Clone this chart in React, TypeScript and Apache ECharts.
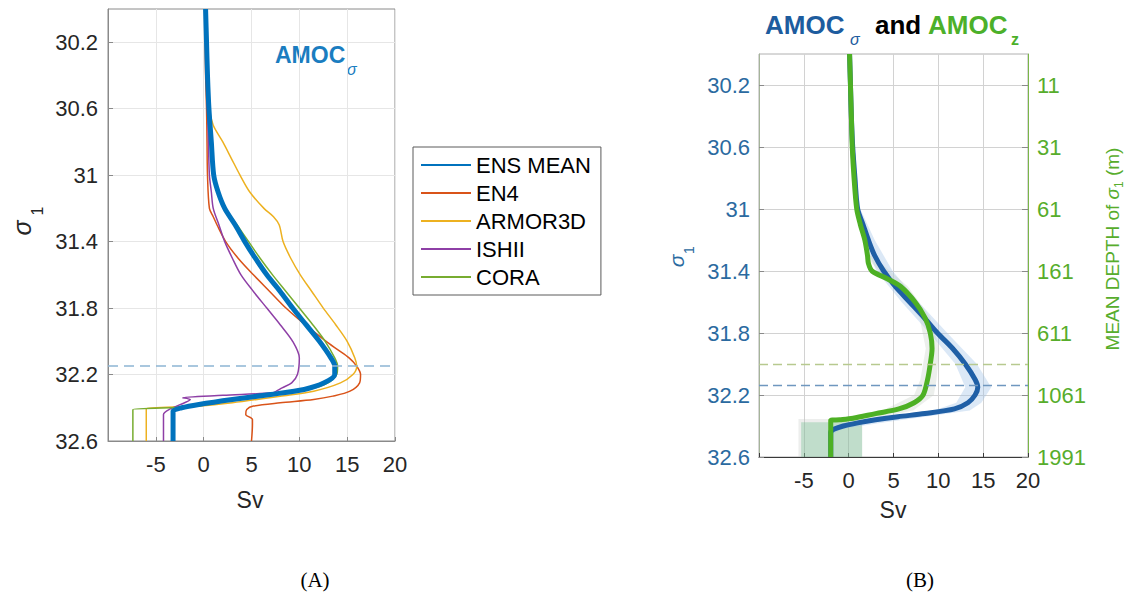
import React, { useEffect, useRef } from 'react';
import * as echarts from 'echarts';

const FONT = "'Liberation Sans', Arial, Helvetica, sans-serif";

// ---------- axes ----------
const SIGMA_TICKS = [30.2, 30.6, 31, 31.4, 31.8, 32.2, 32.6];
const DEPTH_LABELS = ['11', '31', '61', '161', '611', '1061', '1991'];

// ---------- Panel A: [sigma1, Sv] ----------
const ENS_MEAN: number[][] = [
  [30.0, 0.2], [30.2, 0.3], [30.4, 0.4], [30.6, 0.55], [30.8, 0.8], [31.0, 1.05], [31.1, 1.5],
  [31.2, 2.2], [31.3, 3.3], [31.4, 4.3], [31.5, 5.4], [31.6, 6.6], [31.7, 8.0], [31.8, 9.3],
  [31.9, 10.7], [32.0, 12.1], [32.1, 13.3], [32.15, 13.7], [32.2, 13.7], [32.25, 12.6],
  [32.29, 10.5], [32.32, 7.0], [32.35, 3.0], [32.38, -0.5], [32.4, -2.3], [32.42, -3.2],
  [32.44, -3.2], [32.6, -3.2],
];
const EN4: number[][] = [
  [30.0, 0.1], [30.2, 0.15], [30.4, 0.2], [30.6, 0.3], [30.8, 0.35], [31.0, 0.4], [31.2, 0.6],
  [31.25, 1.0], [31.3, 1.4], [31.4, 2.3], [31.5, 3.6], [31.6, 5.2], [31.7, 6.9], [31.8, 8.6],
  [31.9, 10.6], [32.0, 12.8], [32.05, 14.0], [32.1, 15.2], [32.15, 16.0], [32.2, 16.4],
  [32.25, 16.3], [32.3, 15.3], [32.33, 13.5], [32.35, 11.5], [32.37, 8.0], [32.39, 5.2],
  [32.41, 4.5], [32.44, 4.4], [32.47, 5.1], [32.5, 5.1], [32.6, 5.0],
];
const ARMOR3D: number[][] = [
  [30.0, 0.3], [30.2, 0.4], [30.4, 0.5], [30.6, 0.6], [30.7, 1.0], [30.8, 2.0], [30.9, 2.9],
  [31.0, 3.8], [31.1, 4.8], [31.2, 6.3], [31.25, 7.3], [31.3, 7.9], [31.4, 8.3], [31.5, 9.1],
  [31.6, 10.1], [31.7, 11.3], [31.8, 12.5], [31.9, 13.8], [32.0, 15.0], [32.1, 15.8],
  [32.15, 16.0], [32.2, 15.6], [32.25, 14.3], [32.3, 11.5], [32.33, 8.0], [32.37, 3.0],
  [32.39, -0.5], [32.405, -6.0], [32.42, -6.0], [32.6, -6.0],
];
const ISHII: number[][] = [
  [30.0, 0.2], [30.2, 0.25], [30.4, 0.3], [30.6, 0.4], [30.8, 0.5], [31.0, 0.6], [31.1, 0.8],
  [31.2, 1.0], [31.3, 1.6], [31.4, 2.2], [31.5, 3.0], [31.6, 3.9], [31.7, 5.2], [31.8, 6.6],
  [31.9, 8.0], [32.0, 9.3], [32.1, 10.0], [32.2, 9.8], [32.25, 9.2], [32.28, 8.2], [32.3, 7.6],
  [32.31, 7.2], [32.325, 2.0], [32.34, -2.2], [32.35, -1.4], [32.38, -2.4], [32.41, -3.6],
  [32.44, -4.2], [32.46, -4.2], [32.6, -4.2],
];
const CORA: number[][] = [
  [30.0, 0.2], [30.2, 0.3], [30.4, 0.4], [30.6, 0.6], [30.8, 0.8], [31.0, 1.0], [31.1, 1.5],
  [31.2, 2.3], [31.3, 3.5], [31.4, 4.7], [31.5, 5.9], [31.6, 7.2], [31.7, 8.6], [31.8, 10.0],
  [31.9, 11.4], [32.0, 12.7], [32.1, 13.7], [32.15, 14.0], [32.2, 13.9], [32.25, 13.0],
  [32.29, 11.0], [32.32, 7.5], [32.35, 3.5], [32.38, 0.5], [32.395, -1.5], [32.41, -7.4],
  [32.425, -7.4], [32.6, -7.4],
];
const DASH_A = 32.15;

// ---------- Panel B ----------
const AMOC_SIGMA: number[][] = [
  [30.0, 0.1], [30.2, 0.2], [30.4, 0.3], [30.6, 0.45], [30.8, 0.7], [31.0, 1.0], [31.1, 1.6],
  [31.2, 2.2], [31.3, 2.9], [31.4, 3.9], [31.5, 5.2], [31.6, 6.8], [31.7, 8.4], [31.8, 9.9],
  [31.9, 11.6], [32.0, 13.0], [32.1, 14.1], [32.15, 14.4], [32.2, 14.1], [32.25, 13.3],
  [32.29, 11.8], [32.32, 8.5], [32.34, 5.5], [32.36, 3.0], [32.38, 1.0], [32.4, -0.6],
  [32.42, -1.6], [32.44, -2.0], [32.46, -2.0], [32.6, -2.0],
];
const AMOC_Z: number[][] = [
  [30.0, 0.1], [30.2, 0.2], [30.4, 0.3], [30.6, 0.4], [30.8, 0.6], [31.0, 0.9], [31.1, 1.3],
  [31.2, 1.8], [31.3, 2.1], [31.35, 2.2], [31.4, 2.6], [31.45, 4.3], [31.5, 5.8], [31.6, 7.4],
  [31.7, 8.5], [31.8, 9.1], [31.9, 9.3], [32.0, 9.1], [32.1, 8.8], [32.2, 8.3], [32.25, 7.3],
  [32.29, 5.6], [32.32, 3.0], [32.35, 0.5], [32.36, -1.0], [32.365, -2.0], [32.38, -2.0], [32.6, -2.0],
];
// bands: [sigma1, lower Sv, upper Sv]
const SIGMA_BAND: number[][] = [
  [30.0, 0.0, 0.2], [30.4, 0.15, 0.45], [30.8, 0.5, 0.9], [31.0, 0.75, 1.3], [31.2, 1.6, 2.9],
  [31.4, 3.1, 4.9], [31.6, 5.9, 7.8], [31.8, 9.0, 11.0], [32.0, 11.9, 14.3], [32.15, 13.0, 15.9],
  [32.25, 12.0, 14.8], [32.3, 9.5, 13.5], [32.34, 3.5, 8.5], [32.38, -0.5, 3.5],
  [32.42, -2.2, -0.8], [32.45, -2.3, -1.7],
];
const Z_BAND: number[][] = [
  [31.3, 1.8, 2.6], [31.5, 5.0, 6.6], [31.7, 7.9, 9.1], [31.9, 8.6, 10.1], [32.1, 8.0, 9.8],
  [32.2, 7.3, 9.5], [32.3, 3.8, 7.2], [32.34, 0.0, 3.8], [32.36, -2.3, 0.5],
];
const Z_BOTTOM_OUTER: number[][] = [[32.355, -5.6, 1.5], [32.6, -5.6, 1.5]];
const Z_BOTTOM_INNER: number[][] = [[32.375, -5.3, 1.5], [32.6, -5.3, 1.5]];
const DASH_B_Z = 32.0;
const DASH_B_SIGMA = 32.14;

const toXY = (rows: number[][]) => rows.map((r) => [r[1], r[0]]);

const tickIndex = (v: number) => SIGMA_TICKS.findIndex((t) => Math.abs(t - v) < 1e-6);

function bandSeries(rows: number[][], color: string, xi: number, yi: number, z: number) {
  return {
    type: 'custom',
    xAxisIndex: xi,
    yAxisIndex: yi,
    silent: true,
    z,
    data: rows.map((r) => [r[1], r[2], r[0]]),
    encode: { x: [0, 1], y: 2 },
    renderItem: (params: any, api: any) => {
      if (params.dataIndex !== 0) return null;
      const left = rows.map((r) => api.coord([r[1], r[0]]));
      const right = rows.slice().reverse().map((r) => api.coord([r[2], r[0]]));
      return {
        type: 'polygon',
        shape: { points: left.concat(right) },
        style: { fill: color },
        silent: true,
      };
    },
  };
}

function lineSeries(name: string, rows: number[][], color: string, width: number, xi: number, yi: number, z: number, extra: any = {}) {
  return {
    name,
    type: 'line',
    xAxisIndex: xi,
    yAxisIndex: yi,
    data: toXY(rows),
    symbol: 'none',
    showSymbol: false,
    smooth: 0.3,
    z,
    lineStyle: { color, width, join: 'round', cap: 'butt' },
    itemStyle: { color },
    ...extra,
  };
}

const App: React.FC = () => {
  const ref = useRef<HTMLDivElement>(null);

  useEffect(() => {
    document.body.style.margin = '0';
    if (!ref.current) return;
    const chart = echarts.init(ref.current, undefined, { renderer: 'svg' });

    const xAxisBase = (gi: number, labelColor: string, lineColor: string, gridColor: string) => ({
      gridIndex: gi,
      type: 'value',
      min: -10,
      max: 20,
      interval: 5,
      axisLine: { show: true, onZero: false, lineStyle: { color: lineColor, width: 1 } },
      axisTick: { show: true, inside: true, length: 4, lineStyle: { color: lineColor } },
      axisLabel: {
        margin: 12,
        fontSize: 22,
        fontFamily: FONT,
        color: labelColor,
        formatter: (v: number) => (v === -10 ? '' : String(v)),
      },
      splitLine: { show: true, lineStyle: { color: gridColor, width: 1 } },
    });

    const yAxisBase = (gi: number, labelColor: string, lineColor: string, gridColor: string, margin: number) => ({
      gridIndex: gi,
      type: 'value',
      inverse: true,
      min: 30,
      max: 32.6,
      axisLine: { show: true, onZero: false, lineStyle: { color: lineColor, width: 1 } },
      axisTick: { show: true, inside: true, length: 5, customValues: SIGMA_TICKS, lineStyle: { color: '#8a8a8a' } },
      axisLabel: {
        customValues: SIGMA_TICKS,
        margin,
        fontSize: 22,
        fontFamily: FONT,
        color: labelColor,
        formatter: (v: number) => String(v),
      },
      splitLine: { show: true, lineStyle: { color: gridColor, width: 1 } },
    });

    const option: any = {
      animation: false,
      backgroundColor: '#ffffff',
      textStyle: { fontFamily: FONT },
      grid: [
        { left: 108, top: 9, width: 287, height: 432, show: true, borderColor: '#8a8a8a', borderWidth: 1, backgroundColor: 'transparent' },
        { left: 759, top: 54, width: 269, height: 403, show: true, borderColor: '#b0b0b0', borderWidth: 1, backgroundColor: 'transparent' },
      ],
      xAxis: [
        xAxisBase(0, '#262626', '#8a8a8a', '#e6e6e6'),
        xAxisBase(1, '#262626', '#3a3a3a', '#d2d2d2'),
      ],
      yAxis: [
        yAxisBase(0, '#262626', '#8a8a8a', '#e6e6e6', 10),
        yAxisBase(1, '#2b6aa0', '#a6b49a', '#d2d2d2', 9),
        {
          gridIndex: 1,
          type: 'value',
          position: 'right',
          inverse: true,
          min: 30,
          max: 32.6,
          axisLine: { show: true, onZero: false, lineStyle: { color: '#7ab648', width: 1 } },
          axisTick: { show: true, inside: true, length: 6, customValues: SIGMA_TICKS, lineStyle: { color: '#8a8a8a' } },
          axisLabel: {
            customValues: SIGMA_TICKS,
            margin: 9,
            fontSize: 22,
            fontFamily: FONT,
            color: '#57ad2c',
            formatter: (v: number) => {
              const i = tickIndex(v);
              return i >= 0 ? DEPTH_LABELS[i] : '';
            },
          },
          splitLine: { show: false },
        },
      ],
      legend: {
        orient: 'vertical',
        left: 413,
        top: 147,
        itemWidth: 50,
        itemHeight: 14,
        itemGap: 6,
        padding: [7, 10, 7, 7],
        borderColor: '#5a5a5a',
        borderWidth: 1,
        backgroundColor: '#ffffff',
        selectedMode: false,
        itemStyle: { color: 'transparent', borderWidth: 0, opacity: 0 },
        textStyle: { fontSize: 22, lineHeight: 22, color: '#000000', fontFamily: FONT },
        data: ['ENS MEAN', 'EN4', 'ARMOR3D', 'ISHII', 'CORA'],
      },
      series: [
        lineSeries('EN4', EN4, '#D95319', 1.5, 0, 0, 2),
        lineSeries('ARMOR3D', ARMOR3D, '#EDB120', 1.5, 0, 0, 2),
        lineSeries('ISHII', ISHII, '#8E3FA6', 1.5, 0, 0, 2),
        lineSeries('CORA', CORA, '#77AC30', 1.5, 0, 0, 2),
        lineSeries('ENS MEAN', ENS_MEAN, '#0072BD', 5, 0, 0, 3, {
          markLine: {
            silent: true,
            symbol: 'none',
            label: { show: false },
            lineStyle: { type: [10, 6], color: '#8db5d3', width: 1.5 },
            data: [{ yAxis: DASH_A }],
          },
        }),
        bandSeries(Z_BOTTOM_OUTER, 'rgba(190,195,190,0.28)', 1, 1, 1),
        bandSeries(Z_BOTTOM_INNER, 'rgba(110,190,140,0.35)', 1, 1, 1),
        bandSeries(SIGMA_BAND, 'rgba(160,195,232,0.38)', 1, 1, 1),
        bandSeries(Z_BAND, 'rgba(200,208,200,0.35)', 1, 1, 1),
        lineSeries('AMOC σ', AMOC_SIGMA, '#1F5FA6', 5, 1, 1, 3, {
          markLine: {
            silent: true,
            symbol: 'none',
            label: { show: false },
            lineStyle: { type: [9, 5], color: '#6f97bf', width: 1.3 },
            data: [{ yAxis: DASH_B_SIGMA }],
          },
        }),
        lineSeries('AMOC z', AMOC_Z, '#4DB024', 5, 1, 1, 4, {
          markLine: {
            silent: true,
            symbol: 'none',
            label: { show: false },
            lineStyle: { type: [9, 5], color: '#b7c98f', width: 1.3 },
            data: [{ yAxis: DASH_B_Z }],
          },
        }),
      ],
      graphic: [
        // Panel A title
        { type: 'text', left: 275, top: 43, style: { text: 'AMOC', font: `bold 23px ${FONT}`, fill: '#1a7dc0' } },
        { type: 'text', left: 347, top: 61, style: { text: 'σ', font: `italic 16px ${FONT}`, fill: '#1a7dc0' } },
        // Panel B title
        { type: 'text', left: 765, top: 12, style: { text: 'AMOC', font: `bold 26px ${FONT}`, fill: '#1d5c9e' } },
        { type: 'text', left: 850, top: 31, style: { text: 'σ', font: `italic 16px ${FONT}`, fill: '#1d5c9e' } },
        { type: 'text', left: 875, top: 12, style: { text: 'and', font: `bold 26px ${FONT}`, fill: '#000000' } },
        { type: 'text', left: 928, top: 12, style: { text: 'AMOC', font: `bold 26px ${FONT}`, fill: '#4cb02a' } },
        { type: 'text', left: 1011, top: 31, style: { text: 'z', font: `bold 16px ${FONT}`, fill: '#4cb02a' } },
        // Axis names
        { type: 'text', x: 250, y: 500, style: { text: 'Sv', font: `23px ${FONT}`, fill: '#262626', align: 'center', verticalAlign: 'middle' } },
        { type: 'text', x: 893, y: 510, style: { text: 'Sv', font: `23px ${FONT}`, fill: '#262626', align: 'center', verticalAlign: 'middle' } },
        { type: 'text', x: 22, y: 228, rotation: Math.PI / 2, style: { text: 'σ', font: `italic 25px ${FONT}`, fill: '#262626', align: 'center', verticalAlign: 'middle' } },
        { type: 'text', x: 37, y: 211, rotation: Math.PI / 2, style: { text: '1', font: `16px ${FONT}`, fill: '#262626', align: 'center', verticalAlign: 'middle' } },
        { type: 'text', x: 676, y: 261, rotation: Math.PI / 2, style: { text: 'σ', font: `italic 21px ${FONT}`, fill: '#2b6aa0', align: 'center', verticalAlign: 'middle' } },
        { type: 'text', x: 689, y: 250, rotation: Math.PI / 2, style: { text: '1', font: `14px ${FONT}`, fill: '#2b6aa0', align: 'center', verticalAlign: 'middle' } },
        {
          type: 'text', x: 1112, y: 249, rotation: Math.PI / 2,
          style: {
            text: '{t|MEAN DEPTH of }{s|σ}{n|1}{t| (m)}',
            align: 'center', verticalAlign: 'middle', fill: '#57ad2c',
            rich: {
              t: { fontSize: 19, fontFamily: FONT, fill: '#57ad2c', lineHeight: 26, verticalAlign: 'middle' },
              s: { fontSize: 19, fontFamily: FONT, fontStyle: 'italic', fill: '#57ad2c', lineHeight: 26, verticalAlign: 'middle' },
              n: { fontSize: 12, fontFamily: FONT, fill: '#57ad2c', lineHeight: 12, verticalAlign: 'bottom' },
            },
          },
        },
        // Panel labels
        { type: 'text', x: 315, y: 580, style: { text: '(A)', font: `21px 'Liberation Serif', 'Times New Roman', serif`, fill: '#000000', align: 'center', verticalAlign: 'middle' } },
        { type: 'text', x: 920, y: 580, style: { text: '(B)', font: `21px 'Liberation Serif', 'Times New Roman', serif`, fill: '#000000', align: 'center', verticalAlign: 'middle' } },
      ],
    };

    chart.setOption(option);
    return () => chart.dispose();
  }, []);

  return <div ref={ref} style={{ width: 1131, height: 596 }} />;
};

export default App;
